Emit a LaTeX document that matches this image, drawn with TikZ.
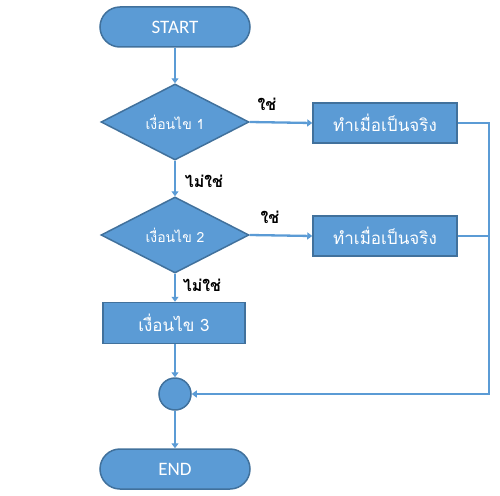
\documentclass[tikz,border=0pt]{standalone}
\usepackage{fontspec}
\setmainfont{Carlito}
\newfontfamily\thaifont[Script=Thai]{Loma}
\usetikzlibrary{shapes.geometric,shapes.misc,arrows.meta}
\definecolor{fillblue}{HTML}{5B9BD5}
\definecolor{edgeblue}{HTML}{41719C}
\tikzset{
  x=1pt,y=-1pt,
  base/.style={fill=fillblue,draw=edgeblue,line width=1.5pt,text=white,inner sep=0pt},
  term/.style={base,rounded rectangle,minimum width=150pt,minimum height=40pt,font=\fontsize{19}{21}\selectfont},
  cond/.style={base,diamond,minimum width=148pt,minimum height=76pt,font=\thaifont\fontsize{14}{16}\selectfont},
  procbox/.style={base,rectangle,minimum width=144pt,minimum height=40pt,font=\thaifont\fontsize{17}{19}\selectfont},
  joint/.style={base,circle,minimum size=32pt},
  flow/.style={draw=fillblue,line width=2.3pt,-{Triangle[width=7pt,length=5pt]}},
  flowline/.style={draw=fillblue,line width=2.3pt},
  lbl/.style={font=\thaifont\bfseries\fontsize{16}{18}\selectfont,text=black,inner sep=0pt}
}
\begin{document}
\begin{tikzpicture}
\useasboundingbox (0,0) rectangle (500,495);
\node[term] (start) at (175,27) {START};
\node[cond] (d1) at (175,122) {เงื่อนไข 1};
\node[procbox] (b1) at (385,123) {ทำเมื่อเป็นจริง};
\node[cond] (d2) at (175,235) {เงื่อนไข 2};
\node[procbox] (b2) at (385,236) {ทำเมื่อเป็นจริง};
\node[procbox,minimum width=142pt,minimum height=41pt] (b3) at (174,323) {เงื่อนไข 3};
\node[joint] (j) at (175,394) {};
\node[term] (end) at (175,469) {END};
\coordinate (r1) at (489,123);
\coordinate (r2) at (489,236);
\node[lbl] (l1) at (267,104) {ใช่};
\node[lbl] (l2) at (270,217) {ใช่};
\node[lbl] (l3) at (204,181) {ไม่ใช่};
\node[lbl] (l4) at (202,285) {ไม่ใช่};
\draw[flow] (start.south) -- (d1.north);
\draw[flow] (d1.east) -- (b1.west);
\draw[flow] (d1.south) -- (d2.north);
\draw[flow] (d2.east) -- (b2.west);
\draw[flow] (d2.south) -- (d2.south |- b3.north);
\draw[flow] (j |- b3.south) -- (j.north);
\draw[flow] (j.south) -- (end.north);
\draw[flowline] (b2.east) -- (r2);
\draw[flow] (b1.east) -- (r1) |- (j.east);
\end{tikzpicture}
\end{document}
